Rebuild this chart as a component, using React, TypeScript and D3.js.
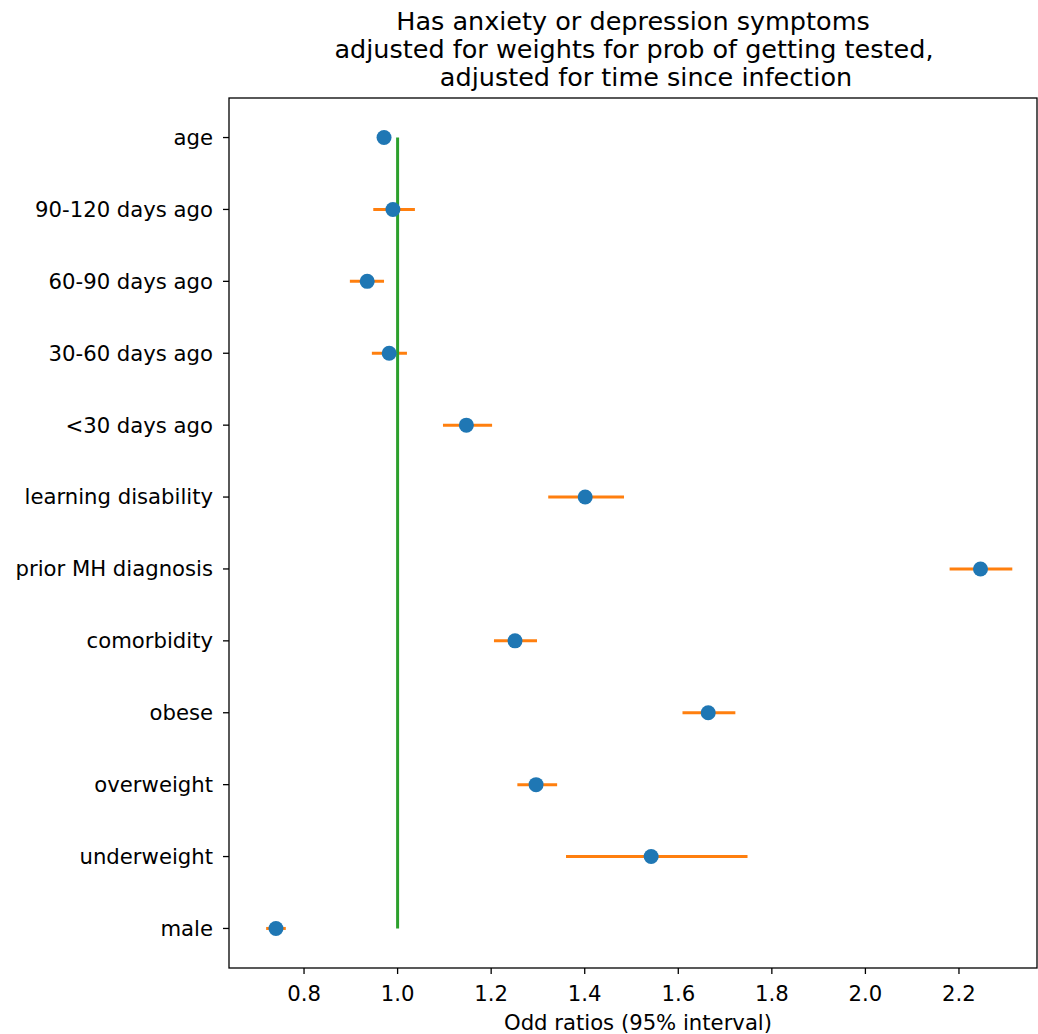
import React from "react";
import * as d3 from "d3";

const categories = ["age", "90-120 days ago", "60-90 days ago", "30-60 days ago", "<30 days ago", "learning disability", "prior MH diagnosis", "comorbidity", "obese", "overweight", "underweight", "male"];
const estimates = [0.971, 0.990, 0.935, 0.982, 1.147, 1.401, 2.246, 1.251, 1.664, 1.296, 1.542, 0.740];
const lower = [0.966, 0.948, 0.898, 0.945, 1.097, 1.322, 2.180, 1.206, 1.609, 1.256, 1.360, 0.719];
const upper = [0.976, 1.037, 0.971, 1.020, 1.202, 1.484, 2.314, 1.298, 1.722, 1.341, 1.748, 0.761];
const xTicks = [0.8, 1.0, 1.2, 1.4, 1.6, 1.8, 2.0, 2.2];
const titleLines = ["Has anxiety or depression symptoms", "adjusted for weights for prob of getting tested,", "adjusted for time since infection"];
const titleShift = [0, 1, 13];

export default function App() {
  const W = 1038, H = 1034;
  const left = 229, right = 1037, top = 98, bottom = 968;
  const x = d3.scaleLinear().domain([0.6396, 2.3668]).range([left, right]);
  const n = categories.length;
  const pad = (n - 1) * 0.05;
  const y = d3.scaleLinear().domain([-pad, n - 1 + pad]).range([top, bottom]);
  const font = "DejaVu Sans, sans-serif";
  const cx = (left + right) / 2;
  const fs = 21.2;
  return (
    <svg width={W} height={H} style={{ position: "absolute", left: 0, top: 0, background: "#fff" }} fontFamily={font}>
      <rect x={0} y={0} width={W} height={H} fill="#fff" />
      {titleLines.map((t, i) => (
        <text key={i} x={cx + titleShift[i]} y={30 + i * 28} textAnchor="middle" fontSize={25.5} fill="#000">{t}</text>
      ))}
      {categories.map((c, i) => (
        <line key={"ci" + i} x1={x(lower[i])} x2={x(upper[i])} y1={y(i)} y2={y(i)} stroke="#ff7f0e" strokeWidth={3} />
      ))}
      <line x1={x(1)} x2={x(1)} y1={y(0)} y2={y(n - 1)} stroke="#2ca02c" strokeWidth={3} />
      {categories.map((c, i) => (
        <circle key={"pt" + i} cx={x(estimates[i])} cy={y(i)} r={7.5} fill="#1f77b4" />
      ))}
      <rect x={left} y={top} width={right - left} height={bottom - top} fill="none" stroke="#000" strokeWidth={1.3} />
      {xTicks.map((t) => (
        <g key={t}>
          <line x1={x(t)} x2={x(t)} y1={bottom} y2={bottom + 6} stroke="#000" strokeWidth={1.3} />
          <text x={x(t)} y={1001} textAnchor="middle" fontSize={fs} fill="#000">{t.toFixed(1)}</text>
        </g>
      ))}
      {categories.map((c, i) => (
        <g key={"yt" + i}>
          <line x1={left - 6} x2={left} y1={y(i)} y2={y(i)} stroke="#000" strokeWidth={1.3} />
          <text x={left - 16} y={y(i)} dy="0.35em" textAnchor="end" fontSize={fs} fill="#000">{c}</text>
        </g>
      ))}
      <text x={cx + 5} y={1030} textAnchor="middle" fontSize={fs} fill="#000">Odd ratios (95% interval)</text>
    </svg>
  );
}
